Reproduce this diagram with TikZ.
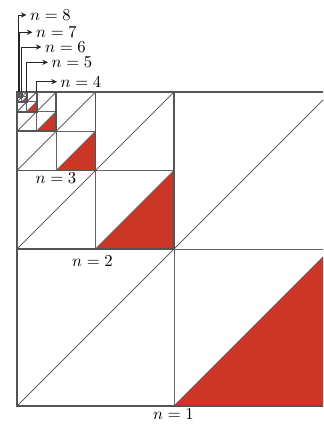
\documentclass[tikz,border=0pt]{standalone}
\usetikzlibrary{arrows.meta}
\definecolor{tri}{RGB}{203,54,38}
\definecolor{edgec}{RGB}{85,85,85}
\definecolor{thinc}{RGB}{100,100,100}
\begin{document}
\begin{tikzpicture}[x=0.6pt,y=-0.6pt,
  bound/.style={draw=edgec,line width=1.1pt},
  innerline/.style={draw=thinc,line width=0.55pt},
  lab/.style={inner sep=0pt},
  arlab/.style={inner sep=2pt,anchor=west},
  arr/.style={draw=black!85,line width=0.55pt,-{Stealth[length=3.4pt,width=3.2pt]}}]
\useasboundingbox (0,0) rectangle (323,424);
\begin{scope}
\clip (0,0) rectangle (323,424);
\foreach \k in {1,...,12}{
  \pgfmathsetmacro{\L}{314/2^(\k-1)}
  \pgfmathsetmacro{\h}{\L/2}
  \fill[tri] (17+\h,92+\L) -- (17+\L,92+\L) -- (17+\L,92+\h) -- cycle;
}
\foreach \k in {1,...,12}{
  \pgfmathsetmacro{\L}{314/2^(\k-1)}
  \pgfmathsetmacro{\h}{\L/2}
  \draw[innerline] (17,92+\L) -- (17+\L,92);
  \draw[innerline] (17+\h,92+\L) -- (17+\L,92+\h);
  \draw[innerline] (17+\h,92+\L) -- (17+\h,92+\h) -- (17+\L,92+\h);
}
\foreach \k in {1,...,12}{
  \pgfmathsetmacro{\L}{314/2^(\k-1)}
  \draw[bound] (17,92) rectangle (17+\L,92+\L);
}
\end{scope}
\node[lab,anchor=base] (l1) at (173.5,419) {$n=1$};
\node[lab,anchor=base] (l2) at (92.5,266.5) {$n=2$};
\node[lab,anchor=base] (l3) at (56,183.5) {$n=3$};
\coordinate (c4) at (36.6,92);
\coordinate (c5) at (26.8,92);
\coordinate (c6) at (21.9,92);
\coordinate (c7) at (19.5,92);
\coordinate (c8) at (18.2,92);
\node[arlab] (l4) at (57,81.7) {$n=4$};
\node[arlab] (l5) at (48,62.3) {$n=5$};
\node[arlab] (l6) at (41.5,47) {$n=6$};
\node[arlab] (l7) at (32.5,32.3) {$n=7$};
\node[arlab] (l8) at (26.5,15) {$n=8$};
\foreach \i in {4,...,8}{
  \draw[arr] (c\i) |- (l\i.west);
}
\end{tikzpicture}
\end{document}
